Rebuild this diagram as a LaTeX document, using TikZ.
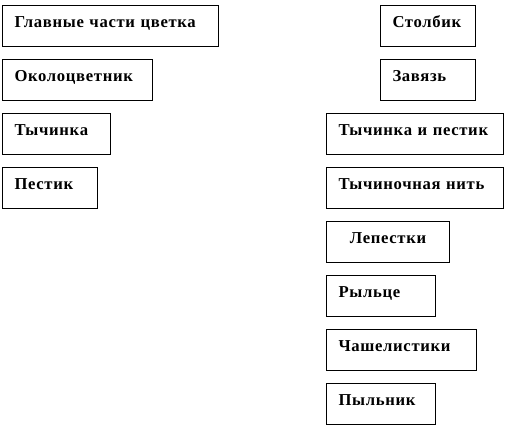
\documentclass[tikz,border=0pt]{standalone}
\usepackage{fontspec}
\setmainfont{Liberation Serif}[LetterSpace=4]
\newcommand{\partfont}{\fontsize{12.5}{14}\selectfont\bfseries}
\begin{document}
\begin{tikzpicture}[x=0.75pt,y=-0.75pt,
  part/.style={draw=black,line width=0.75pt,anchor=north west,inner xsep=9pt,inner ysep=0pt,
    text height=16.5pt,text depth=14.25pt,text width=#1,align=left,font=\partfont}]

\useasboundingbox (0,0) rectangle (507,428);

% left column
\node[part=144pt] (main) at (2,5) {Главные части цветка};
\node[part=94.5pt] (perianth) at (2,59) {Околоцветник};
\node[part=63pt] (stamen) at (2,113) {Тычинка};
\node[part=53.25pt] (pistil) at (2,167) {Пестик};

% right column
\node[part=53.25pt] (style) at (380,5) {Столбик};
\node[part=53.25pt] (ovary) at (380,59) {Завязь};
\node[part=114.75pt] (both) at (326,113) {Тычинка и пестик};
\node[part=114.75pt] (filament) at (326,167) {Тычиночная нить};
\node[part=74.25pt,align=center] (petals) at (326,221) {Лепестки};
\node[part=63.75pt] (stigma) at (326,275) {Рыльце};
\node[part=94.5pt] (sepals) at (326,329) {Чашелистики};
\node[part=63.75pt] (anther) at (326,383) {Пыльник};
\end{tikzpicture}
\end{document}
